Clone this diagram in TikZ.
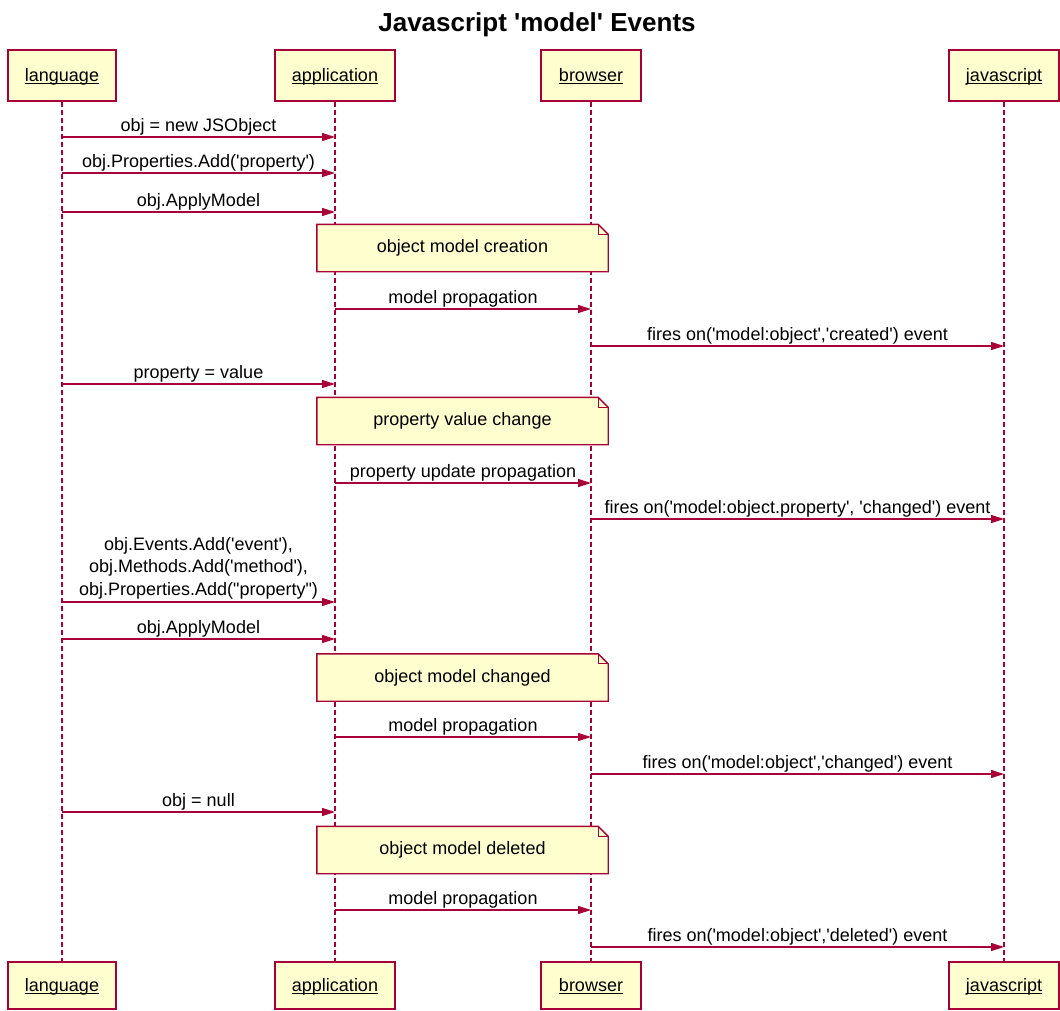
\documentclass[tikz,border=0pt]{standalone}
\usepackage{fontspec}
\setmainfont{Liberation Sans}[Ligatures=TeXOff]
\usetikzlibrary{arrows.meta}
\definecolor{umlred}{HTML}{A80036}
\definecolor{umlfill}{HTML}{FEFECE}
\newsavebox\ulsave
\newcommand\ulbl[1]{\sbox\ulsave{#1}\rlap{\rule[-3pt]{\wd\ulsave}{1.1pt}}\usebox\ulsave}
\newcommand\umlnote[3]{%
  \node[notebox] (#1) at (462.5,#2) {#3};
  \fill[white] ([xshift=-10pt]#1.north east) -- (#1.north east) -- ([yshift=-10pt]#1.north east) -- cycle;
  \draw[noteline] (#1.north west) -- ([xshift=-10pt]#1.north east) -- ([yshift=-10pt]#1.north east) -- (#1.south east) -- (#1.south west) -- cycle;
  \draw[noteline, line width=1pt] ([xshift=-10pt]#1.north east) -- ([xshift=-10pt,yshift=-10pt]#1.north east) -- ([yshift=-10pt]#1.north east);
}
\begin{document}
\begin{tikzpicture}[x=1pt,y=-1pt,
  font=\fontsize{18}{22.5}\selectfont,
  part/.style={draw=umlred, fill=umlfill, line width=1.4pt, inner sep=0pt, text=black, text height=13pt, text depth=2pt},
  life/.style={draw=umlred, line width=1.2pt, dash pattern=on 5pt off 3pt},
  msg/.style={draw=umlred, line width=1.2pt, -{Triangle[length=13pt,width=8pt]}},
  lbl/.style={anchor=base, inner sep=0pt, yshift=6pt, text=black},
  notebox/.style={fill=umlfill, minimum width=291pt, minimum height=47pt, inner sep=0pt, text=black},
  noteline/.style={draw=umlred, line width=1.4pt, line join=miter}]
\useasboundingbox (0,0) rectangle (1060,1010);

% title
\node[anchor=base, inner sep=0pt, font=\fontsize{26}{30}\selectfont\bfseries] (title) at (537,31) {Javascript 'model' Events};

% participants top
\node[part, minimum width=108pt, minimum height=51pt] (lt) at (62,75.5) {\ulbl{language}};
\node[part, minimum width=120pt, minimum height=51pt] (at) at (335,75.5) {\ulbl{application}};
\node[part, minimum width=100pt, minimum height=51pt] (bt) at (591,75.5) {\ulbl{browser}};
\node[part, minimum width=110pt, minimum height=51pt] (jt) at (1004,75.5) {\ulbl{javascript}};
% participants bottom
\node[part, minimum width=108pt, minimum height=47pt] (lb) at (62,985.5) {\ulbl{language}};
\node[part, minimum width=120pt, minimum height=47pt] (ab) at (335,985.5) {\ulbl{application}};
\node[part, minimum width=100pt, minimum height=47pt] (bb) at (591,985.5) {\ulbl{browser}};
\node[part, minimum width=110pt, minimum height=47pt] (jb) at (1004,985.5) {\ulbl{javascript}};

% lifelines
\draw[life] (lt.south) -- (lb.north);
\draw[life] (at.south) -- (ab.north);
\draw[life] (bt.south) -- (bb.north);
\draw[life] (jt.south) -- (jb.north);

% messages
\draw[msg] (lt |- 0,137) -- node[lbl] {obj = new JSObject} (at |- 0,137);
\draw[msg] (lt |- 0,173) -- node[lbl] {obj.Properties.Add('property')} (at |- 0,173);
\draw[msg] (lt |- 0,212) -- node[lbl] {obj.ApplyModel} (at |- 0,212);
\umlnote{n1}{248}{object model creation}
\draw[msg] (at |- 0,309) -- node[lbl] {model propagation} (bt |- 0,309);
\draw[msg] (bt |- 0,346) -- node[lbl] {fires on('model:object','created') event} (jt |- 0,346);
\draw[msg] (lt |- 0,384) -- node[lbl] {property = value} (at |- 0,384);
\umlnote{n2}{421}{property value change}
\draw[msg] (at |- 0,483) -- node[lbl] {property update propagation} (bt |- 0,483);
\draw[msg] (bt |- 0,519) -- node[lbl] {fires on('model:object.property', 'changed') event} (jt |- 0,519);
\draw[msg] (lt |- 0,602) -- node[anchor=south, inner sep=0pt, yshift=2.5pt, align=center, text=black] {obj.Events.Add('event'),\\obj.Methods.Add('method'),\\obj.Properties.Add("property")} (at |- 0,602);
\draw[msg] (lt |- 0,639) -- node[lbl] {obj.ApplyModel} (at |- 0,639);
\umlnote{n3}{677.5}{object model changed}
\draw[msg] (at |- 0,737) -- node[lbl] {model propagation} (bt |- 0,737);
\draw[msg] (bt |- 0,774) -- node[lbl] {fires on('model:object','changed') event} (jt |- 0,774);
\draw[msg] (lt |- 0,812) -- node[lbl] {obj = null} (at |- 0,812);
\umlnote{n4}{850}{object model deleted}
\draw[msg] (at |- 0,910) -- node[lbl] {model propagation} (bt |- 0,910);
\draw[msg] (bt |- 0,947) -- node[lbl] {fires on('model:object','deleted') event} (jt |- 0,947);
\end{tikzpicture}
\end{document}
